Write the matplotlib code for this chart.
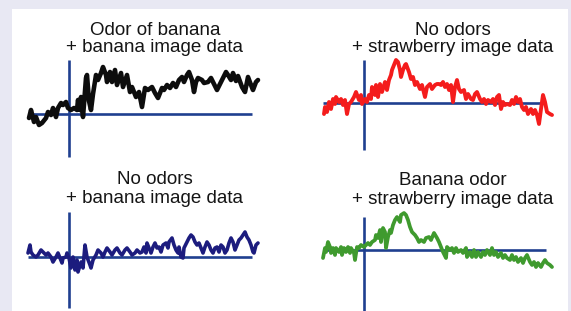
import matplotlib
matplotlib.use("Agg")
import matplotlib.pyplot as plt
from matplotlib.patches import Rectangle

# ---------------- data (time relative to stimulus onset, response relative to baseline) ----------------
t_banana_banana = [-40, -38, -35, -33, -30, -27, -23, -21, -18, -16, -13, -11, -8, -6, -3, -1, 2, 5, 8, 9,
                   11, 12, 14, 17, 18, 20, 22, 24, 27, 29, 32, 34, 37, 38, 41, 43, 46, 48, 52, 54, 58, 61,
                   63, 67, 70,
                   73, 76, 79, 83, 86, 89, 93, 95, 98, 101, 104, 107, 110, 113, 115, 118, 120, 123, 125,
                   127, 129, 133, 135, 139, 142, 145, 148, 151, 154, 157, 159, 162, 164, 167, 169, 173, 176,
                   179, 182, 184, 187, 189]
v_banana_banana = [-4, 4, -8, -3, -11, -9, -4, 2, -1, 6, -3, 6, 11, 9, 12, 6, 4, 6, 4, 14,
                   4, 17, -3, 36, 39, 13, 4, 20, 39, 34, 41, 47, 39, 32, 42, 32, 44, 29, 41, 27, 39, 22,
                   27, 17, 22,
                   7, 26, 24, 27, 21, 16, 26, 24, 29, 26, 31, 27, 34, 37, 32, 39, 42, 34, 22,
                   32, 36, 34, 31, 32, 36, 30, 24, 30, 36, 42, 39, 34, 41, 33, 38, 27, 22,
                   37, 29, 24, 32, 34]

t_none_straw = [-40, -39, -37, -35, -33, -31, -29, -28, -25, -23, -21, -19, -17, -15, -13, -10, -8, -5, -3, -2,
                1, 3, 5, 7, 8, 11, 12, 14, 16, 18, 21, 23, 25, 27, 28, 30, 32, 34, 36, 37,
                39, 41, 42, 45, 47, 49, 51, 53, 56, 58, 61, 63, 66, 68, 71, 73,
                75, 77, 79, 81, 83, 85, 87, 89, 91, 93, 95, 97, 100, 102, 104, 107, 109, 111, 113, 116,
                118, 120, 122, 124, 127, 129, 131, 133, 135, 137, 139, 141, 143, 146, 148, 150, 152, 154,
                156, 158, 160, 162, 164, 167, 169, 171, 173, 175, 177, 179, 181, 183, 186, 188]
v_none_straw = [-11, -4, -9, 1, -6, 4, -1, 6, 1, 4, -2, 3, -11, -1, 1, 6, 11, 3, 8, -1,
                4, 1, 8, 4, 16, 8, 18, 6, 19, 11, 21, 13, 23, 28, 33, 38, 43, 41, 33, 26,
                33, 38, 39, 31, 24, 26, 18, 21, 14, 18, 6, 16, 19, 14, 18, 19,
                19, 18, 21, 16, 19, 13, 18, 1, 16, 23, 14, 11, 13, 4, 9, 4, 3, 9, 11, 4,
                1, 4, -1, 3, 1, 4, -2, 6, 8, -6, 1, -2, -1, -2, 3, -1, 6, 1,
                4, -4, -7, -4, -11, -6, -11, -7, -12, -21, -6, 8, 1, -9, -11, -12]

t_none_banana = [-41, -39, -38, -36, -33, -31, -28, -26, -23, -21, -18, -16, -13, -11, -9, -7, -6, -3, -2, 0,
                 2, 4, 6, 8, 9, 12, 14, 16, 18, 21, 22, 24, 27, 29, 32, 34, 36, 38, 41, 43,
                 46, 48, 51, 53, 56, 58, 61, 63, 66, 68,
                 71, 73, 75, 77, 78, 80, 82, 84, 86, 88, 90, 92, 94, 97, 99, 100, 103, 105, 107, 109,
                 110, 112, 114, 115, 118, 120, 122, 124, 126, 128, 130, 132, 134, 136, 138, 140, 142, 144,
                 146, 148, 150, 152, 154, 156, 158, 160, 162, 164, 166, 168, 170, 172, 174, 176, 178, 180,
                 182, 184, 185, 187, 189]
v_none_banana = [4, 12, 5, 2, 0, 2, 7, 5, 2, 4, 0, -5, 0, 4, -1, -6, -1, 0, 4, -1,
                 -11, 0, -13, -3, -15, -5, -11, 12, 0, -8, -11, -3, 2, 7, 4, 0, 5, 9, 5, 2,
                 7, 9, 4, 2, 7, 9, 5, 2, 4, 7,
                 4, 5, 10, 4, 14, 9, 4, 10, 14, 9, 10, 5, 12, 14, 9, 15, 19, 12, 7, 4,
                 10, 0, -1, 9, 15, 19, 22, 20, 15, 12, 14, 9, 4, 10, 15, 12, 7, 4,
                 9, 10, 5, 12, 10, 4, 7, 14, 19, 15, 7, 12, 17, 19, 22, 25, 20, 17,
                 12, 5, 4, 12, 14]

t_banana_straw = [-41, -39, -38, -36, -34, -33, -31, -29, -28, -25, -23, -22, -20, -18, -16, -14, -13, -10, -9, -7,
                  -5, -3, 0, 2, 4, 6, 8, 11, 12, 14, 16, 17, 19, 21, 22, 24, 26, 27, 29, 31,
                  33, 36, 37, 40, 42, 44, 46, 48, 51, 53, 55, 57, 60, 62, 65, 67,
                  70, 73, 75, 77, 79, 82, 83, 86, 88, 90, 92, 94, 97, 99, 102, 103, 106, 108, 110, 112,
                  114, 117, 119, 121, 123, 126, 128, 130, 132, 134, 137, 139, 141, 143, 146, 148, 150, 152,
                  154, 157, 159, 161, 163, 166, 168, 170, 172, 174, 177, 179, 181, 183, 186, 188]
v_banana_straw = [-8, 2, -2, 8, 3, -3, 2, -5, 2, -2, 3, -5, 2, -2, 3, -3, 2, -3, -10, 3,
                  2, 5, 3, 5, 7, 5, 8, 10, 15, 12, 20, 8, 22, 18, 2, 13, 20, 17, 25, 30,
                  33, 28, 35, 37, 35, 30, 23, 18, 15, 12, 8, 10, 8, 12, 13, 10,
                  17, 12, 8, 3, -2, -8, 3, 0, 2, -3, 2, -2, 0, -3, 2, -7, -2, -7, 0, -7,
                  -2, -7, -2, -5, 0, -5, 2, -5, -2, -7, -3, -8, -5, -8, -10, -5, -10, -7,
                  -12, -8, -13, -8, -5, -12, -15, -12, -17, -13, -17, -13, -10, -13, -15, -17]

titles = [
    ("Odor of banana", "+ banana image data"),
    ("No odors", "+ strawberry image data"),
    ("No odors", "+ banana image data"),
    ("Banana odor", "+ strawberry image data"),
]
series_t = [t_banana_banana, t_none_straw, t_none_banana, t_banana_straw]
series_v = [v_banana_banana, v_none_straw, v_none_banana, v_banana_straw]

# ---------------- styles / layout ----------------
W, H = 571, 311
trace_colors = ["#0d0d0d", "#f41c1c", "#1c1c7e", "#3f9a2e"]
trace_widths = [3.3, 2.8, 2.6, 2.7]
axis_color = "#1f3f90"

# per panel: axes box (px: x0, y0, x1, y1), onset x px, baseline y px,
# vertical axis extent (data units), baseline extent (data units), title centre x, title baselines
layout = [
    dict(box=(20, 55, 265, 160), ox=69, oy=114, vext=(-43, 54), hext=(-41, 183), tx=155, ty=(35, 52)),
    dict(box=(315, 50, 560, 160), ox=364, oy=103, vext=(-47, 43), hext=(-41, 178), tx=453, ty=(35, 52)),
    dict(box=(20, 205, 265, 311), ox=69, oy=257, vext=(-51, 45), hext=(-41, 183), tx=155, ty=(184, 203)),
    dict(box=(315, 205, 560, 311), ox=364, oy=250, vext=(-61, 33), hext=(-41, 182), tx=453, ty=(185, 204)),
]

fig = plt.figure(figsize=(W / 100, H / 100), dpi=100, facecolor="#e8e8f3")
fig.patches.append(Rectangle((12 / W, 0), (568 - 12) / W, (311 - 9) / H,
                             transform=fig.transFigure, facecolor="white",
                             edgecolor="none", zorder=-5))

font = ["Liberation Sans", "DejaVu Sans"]

for i in range(4):
    L = layout[i]
    x0, y0, x1, y1 = L["box"]
    ax = fig.add_axes([x0 / W, 1 - y1 / H, (x1 - x0) / W, (y1 - y0) / H])
    ax.set_xlim(x0 - L["ox"], x1 - L["ox"])
    ax.set_ylim(L["oy"] - y1, L["oy"] - y0)
    ax.axis("off")
    ax.patch.set_alpha(0)
    ax.vlines(0, L["vext"][0], L["vext"][1], color=axis_color, lw=1.9, zorder=2, clip_on=False)
    ax.hlines(0, L["hext"][0], L["hext"][1], color=axis_color, lw=1.9, zorder=2, clip_on=False)
    ax.plot(series_t[i], series_v[i], color=trace_colors[i], lw=trace_widths[i],
            solid_joinstyle="round", solid_capstyle="round", zorder=3, clip_on=False)
    for line, ty in zip(titles[i], L["ty"]):
        fig.text(L["tx"] / W, 1 - ty / H, line, ha="center", va="baseline",
                 fontsize=13.5, family=font, color="#151515")

fig.savefig("out.png", dpi=100, facecolor=fig.get_facecolor())
